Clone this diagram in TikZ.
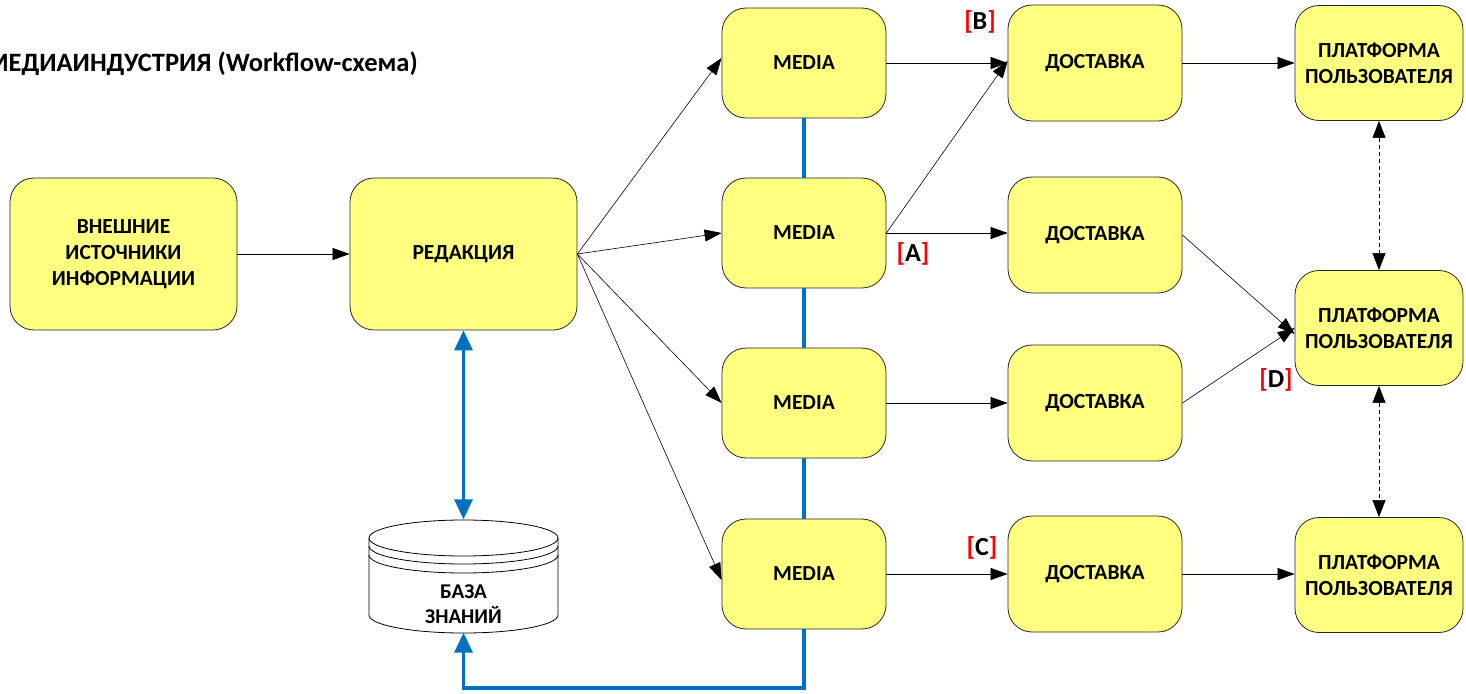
\documentclass[tikz,border=0pt]{standalone}
\usepackage{fontspec}
\setmainfont{Carlito}
\usetikzlibrary{arrows.meta}
\definecolor{yel}{RGB}{255,255,128}
\definecolor{bl}{RGB}{0,112,192}
\definecolor{rd}{RGB}{255,0,0}
\begin{document}
\begin{tikzpicture}[x=1pt,y=-1pt,
  box/.style={draw=black!85, line width=0.8pt, fill=yel, rounded corners=24pt, align=center,
    font=\fontsize{21.5}{26}\selectfont\bfseries, inner sep=0pt},
  bigbox/.style={box, minimum width=227pt, minimum height=152pt},
  medbox/.style={box, minimum width=164pt, minimum height=110pt},
  delbox/.style={box, minimum width=174pt, minimum height=116pt},
  platbox/.style={box, minimum width=168pt, minimum height=115pt},
  conn/.style={line width=0.6pt, -{Triangle[length=17pt,width=12pt]}},
  dconn/.style={line width=0.6pt, dash pattern=on 4pt off 3pt, {Triangle[length=17pt,width=13pt]}-{Triangle[length=17pt,width=13pt]}},
  blueline/.style={draw=bl, line width=3.5pt},
  bluetip/.tip={Triangle[length=20pt,width=18pt]},
  lbl/.style={font=\fontsize{26}{30}\selectfont\bfseries, inner sep=0pt}
]
\useasboundingbox (0,0) rectangle (1466,693);

\node[anchor=east, font=\fontsize{26.5}{30}\selectfont\bfseries, inner sep=0pt] (title) at (418,64) {МЕДИАИНДУСТРИЯ (Workflow-схема)};

\node[bigbox] (ext) at (123.5,254) {ВНЕШНИЕ\\ИСТОЧНИКИ\\ИНФОРМАЦИИ};
\node[bigbox] (red) at (463.5,254) {РЕДАКЦИЯ};

\node[medbox] (m1) at (804,63) {MEDIA};
\node[medbox] (m2) at (804,233) {MEDIA};
\node[medbox] (m3) at (804,403) {MEDIA};
\node[medbox] (m4) at (804,574) {MEDIA};

\node[delbox] (d1) at (1095,63) {ДОСТАВКА};
\node[delbox] (d2) at (1095,235) {ДОСТАВКА};
\node[delbox] (d3) at (1095,403) {ДОСТАВКА};
\node[delbox] (d4) at (1095,574) {ДОСТАВКА};

\node[platbox] (p1) at (1379,63) {ПЛАТФОРМА\\ПОЛЬЗОВАТЕЛЯ};
\node[platbox] (p2) at (1379,328) {ПЛАТФОРМА\\ПОЛЬЗОВАТЕЛЯ};
\node[platbox] (p3) at (1379,575) {ПЛАТФОРМА\\ПОЛЬЗОВАТЕЛЯ};

% database cylinder
\draw[line width=0.8pt, fill=white] (369,538) -- (369,615)
  arc[start angle=180, end angle=360, x radius=94.5pt, y radius=18pt] -- (558,538)
  arc[start angle=0, end angle=180, x radius=94.5pt, y radius=18pt] -- cycle;
\draw[line width=0.8pt] (369,538) arc[start angle=180, end angle=360, x radius=94.5pt, y radius=18pt];
\draw[line width=0.8pt] (369,546) arc[start angle=180, end angle=360, x radius=94.5pt, y radius=18pt];
\draw[line width=0.8pt] (369,555) arc[start angle=180, end angle=360, x radius=94.5pt, y radius=18pt];
\node[minimum width=189pt, minimum height=113pt, inner sep=0pt] (db) at (463.5,576) {};
\node[font=\fontsize{21}{25}\selectfont\bfseries, align=center, inner sep=0pt] (dbtext) at (463.5,604) {БАЗА\\ЗНАНИЙ};

% black connectors
\draw[conn] (ext.east) -- (red.west);
\draw[conn] (red.east) -- ([yshift=5pt]m1.west);
\draw[conn] (red.east) -- (m2.west);
\draw[conn] (red.east) -- (m3.west);
\draw[conn] (red.east) -- ([yshift=-6pt]m4.west);

\draw[conn] (m1.east) -- (d1.west);
\draw[conn] (m2.east) -- ([yshift=2pt]d1.west);
\draw[conn] (m2.east) -- (m2.east -| d2.west);
\draw[conn] (m3.east) -- (d3.west);
\draw[conn] (m4.east) -- (d4.west);

\draw[conn] (d1.east) -- (p1.west);
\draw[conn] (d2.east) -- ([yshift=-6pt]p2.west);
\draw[conn] (d3.east) -- (p2.west);
\draw[conn] (d4.east) -- (d4.east -| p3.west);

\draw[dconn] (p1.south) -- (p2.north);
\draw[dconn] (p2.south) -- (p3.north);

% blue connectors
\draw[blueline, bluetip-bluetip] (red.south) -- (db.north);
\draw[blueline] (m1.south) -- (m2.north);
\draw[blueline] (m2.south) -- (m3.north);
\draw[blueline] (m3.south) -- (m4.north);
\coordinate (bend) at (804,688);
\draw[blueline, -bluetip] (m4.south) -- (bend) -| (db.south);

% labels
\node[lbl] (lB) at (980,22) {\textcolor{rd}{[}B\textcolor{rd}{]}};
\node[lbl] (lA) at (913,254) {\textcolor{rd}{[}A\textcolor{rd}{]}};
\node[lbl] (lD) at (1276,380) {\textcolor{rd}{[}D\textcolor{rd}{]}};
\node[lbl] (lC) at (982,548) {\textcolor{rd}{[}C\textcolor{rd}{]}};
\end{tikzpicture}
\end{document}
